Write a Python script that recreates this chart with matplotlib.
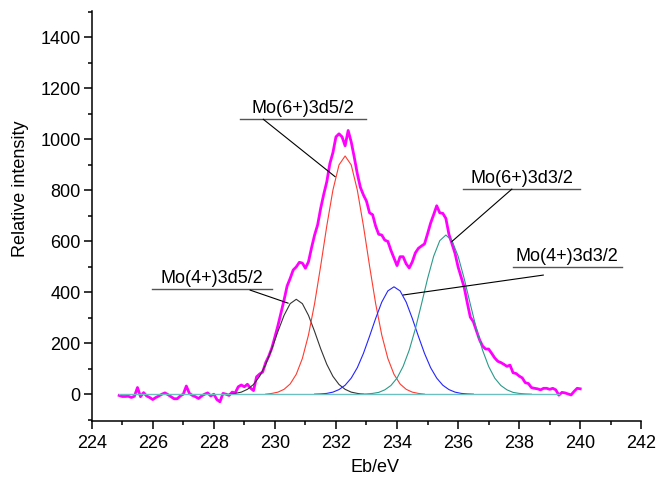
import matplotlib
matplotlib.use("Agg")
import matplotlib.pyplot as plt
from matplotlib.ticker import MultipleLocator

plt.rcParams["font.family"] = ["Liberation Sans", "DejaVu Sans"]
plt.rcParams["font.size"] = 13

# measured spectrum (binding energy / eV, counts)
energy = [
    224.9, 225.0, 225.1, 225.2, 225.3, 225.4, 225.5, 225.6, 225.7, 225.8,
    225.9, 226.0, 226.1, 226.2, 226.3, 226.4, 226.5, 226.6, 226.7, 226.8,
    226.9, 227.0, 227.1, 227.2, 227.3, 227.4, 227.5, 227.6, 227.7, 227.8,
    227.9, 228.0, 228.1, 228.2, 228.3, 228.4, 228.5, 228.6, 228.7, 228.8,
    228.9, 229.0, 229.1, 229.2, 229.3, 229.4, 229.5, 229.6, 229.7, 229.8,
    229.9, 230.0, 230.1, 230.2, 230.3, 230.4, 230.5, 230.6, 230.7, 230.8,
    230.9, 231.0, 231.1, 231.2, 231.3, 231.4, 231.5, 231.6, 231.7, 231.8,
    231.9, 232.0, 232.1, 232.2, 232.3, 232.4, 232.5, 232.6, 232.7, 232.8,
    232.9, 233.0, 233.1, 233.2, 233.3, 233.4, 233.5, 233.6, 233.7, 233.8,
    233.9, 234.0, 234.1, 234.2, 234.3, 234.4, 234.5, 234.6, 234.7, 234.8,
    234.9, 235.0, 235.1, 235.2, 235.3, 235.4, 235.5, 235.6, 235.7, 235.8,
    235.9, 236.0, 236.1, 236.2, 236.3, 236.4, 236.5, 236.6, 236.7, 236.8,
    236.9, 237.0, 237.1, 237.2, 237.3, 237.4, 237.5, 237.6, 237.7, 237.8,
    237.9, 238.0, 238.1, 238.2, 238.3, 238.4, 238.5, 238.6, 238.7, 238.8,
    238.9, 239.0, 239.1, 239.2, 239.3, 239.4, 239.5, 239.6, 239.7, 239.8,
    239.9, 240.0,
]
intensity = [
    -4, -8, -8, -7, -12, -7, 27, -9, 7, -6,
    -12, -20, -12, -6, 1, 6, -1, -9, -17, -17,
    -6, 1, 33, 4, -4, -9, -16, -6, 1, 6,
    -6, 1, -20, -29, 4, 1, -4, 9, 6, 30,
    37, 30, 40, 25, 15, 69, 80, 88, 125, 150,
    182, 225, 270, 320, 370, 425, 455, 488, 500, 518,
    515, 495, 520, 575, 625, 665, 730, 785, 834, 905,
    948, 1010, 1022, 1010, 975, 1035, 990, 930, 865, 812,
    782, 758, 712, 705, 660, 628, 625, 605, 600, 565,
    535, 505, 540, 540, 512, 496, 520, 555, 573, 582,
    590, 630, 672, 705, 740, 712, 710, 690, 628, 590,
    553, 500, 460, 420, 360, 303, 285, 250, 215, 190,
    178, 178, 161, 143, 130, 125, 118, 110, 115, 85,
    82, 72, 65, 46, 43, 27, 24, 22, 18, 24,
    24, 20, 24, 18, -3, 8, 6, 2, -2, 12,
    24, 22,
]

# fitted components
mo4_52_x = [228.5, 228.7, 228.9, 229.1, 229.3, 229.5, 229.7, 229.9, 230.1, 230.3, 230.5, 230.7,
            230.9, 231.1, 231.3, 231.5, 231.7, 231.9, 232.1, 232.3, 232.5, 232.7, 232.9]
mo4_52_y = [1, 4, 9, 20, 39, 71, 118, 179, 247, 310, 356, 373,
            356, 310, 247, 179, 118, 71, 39, 20, 9, 4, 1]

mo6_52_x = [229.7, 229.9, 230.1, 230.3, 230.5, 230.7, 230.9, 231.1, 231.3, 231.5, 231.7, 231.9, 232.1,
            232.3, 232.5, 232.7, 232.9, 233.1, 233.3, 233.5, 233.7, 233.9, 234.1, 234.3, 234.5, 234.7, 234.9]
mo6_52_y = [1, 4, 9, 20, 41, 79, 141, 233, 356, 504, 661, 801, 900,
            935, 900, 801, 661, 504, 356, 233, 141, 79, 41, 20, 9, 4, 1]

mo4_32_x = [231.3, 231.5, 231.7, 231.9, 232.1, 232.3, 232.5, 232.7, 232.9, 233.1, 233.3, 233.5, 233.7,
            233.9, 234.1, 234.3, 234.5, 234.7, 234.9, 235.1, 235.3, 235.5, 235.7, 235.9, 236.1, 236.3, 236.5]
mo4_32_y = [1, 2, 4, 9, 19, 36, 64, 105, 161, 228, 298, 362, 406,
            422, 406, 362, 298, 228, 161, 105, 64, 36, 19, 9, 4, 2, 1]

mo6_32_x = [232.8, 233.0, 233.2, 233.4, 233.6, 233.8, 234.0, 234.2, 234.4, 234.6, 234.8, 235.0, 235.2, 235.4,
            235.6, 235.8, 236.0, 236.2, 236.4, 236.6, 236.8, 237.0, 237.2, 237.4, 237.6, 237.8, 238.0, 238.2, 238.4]
mo6_32_y = [1, 2, 4, 8, 18, 35, 64, 110, 174, 257, 354, 454, 542, 603,
            625, 603, 542, 454, 354, 257, 174, 110, 64, 35, 18, 8, 4, 2, 1]

baseline_x = [224.9, 239.3]
baseline_y = [0, 0]

fig = plt.figure(figsize=(6.61, 4.83), dpi=100)
ax = fig.add_axes([0.1387, 0.129, 0.8315, 0.849])

ax.plot(energy, intensity, color="#ff00ff", lw=2.0, zorder=2)
ax.plot(mo4_52_x, mo4_52_y, color="#333333", lw=0.8, zorder=3)
ax.plot(mo6_52_x, mo6_52_y, color="#ff3b30", lw=0.8, zorder=3)
ax.plot(mo4_32_x, mo4_32_y, color="#2424ff", lw=0.8, zorder=3)
ax.plot(mo6_32_x, mo6_32_y, color="#2a9a8a", lw=0.8, zorder=3)
ax.plot(baseline_x, baseline_y, color="#6cc0c0", lw=1.0, zorder=3)

# labels: text, underline span, leader line (from, to)
labels = [
    ("Mo(4+)3d5/2", (225.98, 229.91, 413), ((229.19, 409), (230.43, 358))),
    ("Mo(6+)3d5/2", (228.86, 232.99, 1079), ((229.62, 1079), (231.97, 854))),
    ("Mo(6+)3d3/2", (236.16, 240.0, 805), ((237.76, 805), (235.79, 599))),
    ("Mo(4+)3d3/2", (237.79, 241.36, 498), ((238.79, 468), (234.21, 390))),
]
for txt, (x0, x1, yl), (p0, p1) in labels:
    ax.plot([x0, x1], [yl, yl], color="#555555", lw=1.0, zorder=4)
    ax.text((x0 + x1) / 2, yl + 24, txt, ha="center", va="baseline", zorder=4)
    ax.plot([p0[0], p1[0]], [p0[1], p1[1]], color="black", lw=0.8, zorder=4)

ax.set_xlim(224, 242)
ax.set_ylim(-103, 1505)
ax.xaxis.set_major_locator(MultipleLocator(2))
ax.xaxis.set_minor_locator(MultipleLocator(1))
ax.yaxis.set_major_locator(MultipleLocator(200))
ax.yaxis.set_minor_locator(MultipleLocator(100))
ax.set_yticks(range(0, 1401, 200))

for s in ("top", "right"):
    ax.spines[s].set_visible(False)
for s in ("left", "bottom"):
    ax.spines[s].set_linewidth(1.1)
ax.tick_params(which="major", length=6, width=1.1, direction="out")
ax.tick_params(which="minor", length=3, width=1.1, direction="out")
ax.tick_params(axis="x", pad=4.5)
ax.tick_params(axis="y", pad=2)

ax.set_xlabel("Eb/eV")
ax.set_ylabel("Relative intensity")
ax.xaxis.set_label_coords(0.515, -0.115)
ax.yaxis.set_label_coords(-0.13, 0.565)
ax.xaxis.label.set_va("center")
ax.yaxis.label.set_va("center")

fig.savefig("out.png", dpi=100)
